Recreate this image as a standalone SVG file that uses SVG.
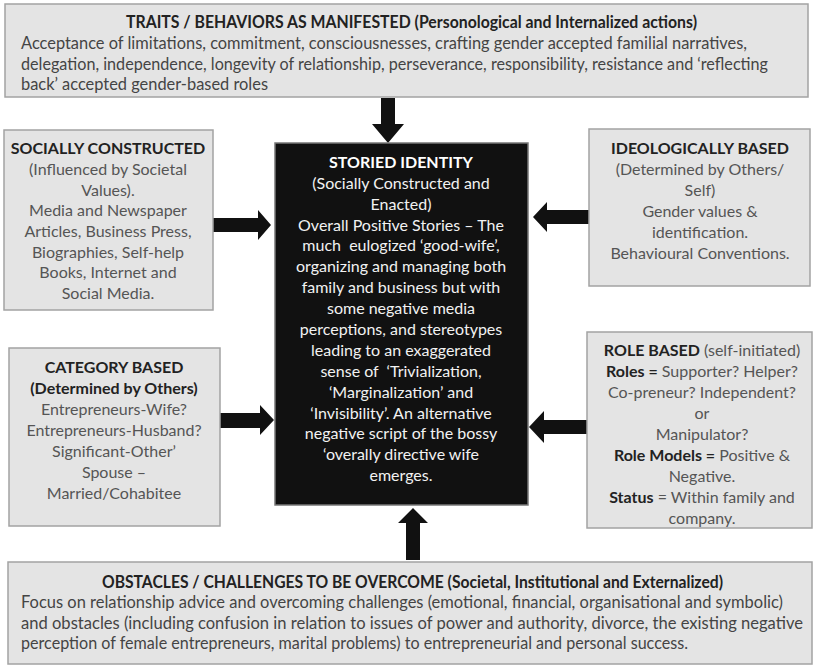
<svg xmlns="http://www.w3.org/2000/svg" width="813" height="666" viewBox="0 0 813 666">
<style>
.box{fill:#e4e4e4;stroke:#a3a3a3;stroke-width:1.5}
.core{fill:#111;stroke:#777;stroke-width:1.5}
text{font-family:Lato,"Open Sans","Liberation Sans",sans-serif;font-size:16px}
.c{text-anchor:middle;fill:#555}
.w{text-anchor:middle;fill:#f2f2f2}
.n{fill:#444;font-size:16.5px}
.b{font-weight:bold;fill:#222}
.wb{font-weight:bold;fill:#fff}
.arr{fill:#111}
</style>
<rect width="813" height="666" fill="#fff"/>
<g id="connectors">
<polygon class="arr" points="381,98 395,98 395,124 404,124 388,143 372,124 381,124"/>
<polygon class="arr" points="213,218 258,218 258,210 271,225 258,240 258,232 213,232"/>
<polygon class="arr" points="589,210 547,210 547,202 533,217 547,232 547,224 589,224"/>
<polygon class="arr" points="220,413 260,413 260,405 274,420 260,435 260,428 220,428"/>
<polygon class="arr" points="587,420 544,420 544,411 529,427 544,443 544,434 587,434"/>
<polygon class="arr" points="406,560 420,560 420,523 428,523 413,508 398,523 406,523"/>
</g>
<g id="traits">
<rect class="box" x="5" y="4" width="803" height="93"/>
<text x="126" y="28" class="n b" textLength="571" lengthAdjust="spacingAndGlyphs">TRAITS / BEHAVIORS AS MANIFESTED (Personological and Internalized actions)</text>
<text x="21" y="49" class="n" textLength="726" lengthAdjust="spacingAndGlyphs">Acceptance of limitations, commitment, consciousnesses, crafting gender accepted familial narratives,</text>
<text x="21" y="70" class="n" textLength="747" lengthAdjust="spacingAndGlyphs">delegation, independence, longevity of relationship, perseverance, responsibility, resistance and ‘reflecting</text>
<text x="21" y="90" class="n" textLength="247" lengthAdjust="spacingAndGlyphs">back’ accepted gender-based roles</text>
</g>
<g id="socially">
<rect class="box" x="4" y="130" width="209" height="180"/>
<text class="c" x="108" y="154"><tspan class="b">SOCIALLY CONSTRUCTED</tspan><tspan x="108" y="175">(Influenced by Societal</tspan><tspan x="108" y="196">Values).</tspan><tspan x="108" y="216">Media and Newspaper</tspan><tspan x="108" y="237">Articles, Business Press,</tspan><tspan x="108" y="258">Biographies, Self-help</tspan><tspan x="108" y="278">Books, Internet and</tspan><tspan x="108" y="299">Social Media.</tspan></text>
</g>
<g id="ideological">
<rect class="box" x="589" y="129" width="221" height="157"/>
<text class="c" x="700" y="154"><tspan class="b">IDEOLOGICALLY BASED</tspan><tspan x="700" y="175">(Determined by Others/</tspan><tspan x="700" y="196">Self)</tspan><tspan x="700" y="217">Gender values &amp;</tspan><tspan x="700" y="238">identification.</tspan><tspan x="700" y="259">Behavioural Conventions.</tspan></text>
</g>
<g id="category">
<rect class="box" x="9" y="348" width="211" height="178"/>
<text class="c" x="114" y="373"><tspan class="b">CATEGORY BASED</tspan><tspan x="114" y="394" class="b">(Determined by Others)</tspan><tspan x="114" y="415">Entrepreneurs-Wife?</tspan><tspan x="114" y="436">Entrepreneurs-Husband?</tspan><tspan x="114" y="457">Significant-Other’</tspan><tspan x="114" y="478">Spouse –</tspan><tspan x="114" y="499">Married/Cohabitee</tspan></text>
</g>
<g id="role">
<rect class="box" x="587" y="332" width="225" height="196"/>
<text class="c" x="702" y="356"><tspan class="b">ROLE BASED</tspan> (self-initiated)<tspan x="702" y="377"><tspan class="b">Roles =</tspan> Supporter? Helper?</tspan><tspan x="702" y="398">Co-preneur? Independent?</tspan><tspan x="702" y="419">or</tspan><tspan x="702" y="440">Manipulator?</tspan><tspan x="702" y="461"><tspan class="b">Role Models =</tspan> Positive &amp;</tspan><tspan x="702" y="482">Negative.</tspan><tspan x="702" y="503"><tspan class="b">Status</tspan> = Within family and</tspan><tspan x="702" y="524">company.</tspan></text>
</g>
<g id="storied">
<rect class="core" x="275" y="143" width="253" height="362"/>
<text class="w" x="401" y="168" xml:space="preserve"><tspan class="wb">STORIED IDENTITY</tspan><tspan x="401" y="189">(Socially Constructed and</tspan><tspan x="401" y="210">Enacted)</tspan><tspan x="401" y="231">Overall Positive Stories – The</tspan><tspan x="401" y="251">much  eulogized ‘good-wife’,</tspan><tspan x="401" y="272">organizing and managing both</tspan><tspan x="401" y="293">family and business but with</tspan><tspan x="401" y="314">some negative media</tspan><tspan x="401" y="335">perceptions, and stereotypes</tspan><tspan x="401" y="356">leading to an exaggerated</tspan><tspan x="401" y="377">sense of  ‘Trivialization,</tspan><tspan x="401" y="398">‘Marginalization’ and</tspan><tspan x="401" y="419">‘Invisibility’. An alternative</tspan><tspan x="401" y="439">negative script of the bossy</tspan><tspan x="401" y="460">‘overally directive wife</tspan><tspan x="401" y="481">emerges.</tspan></text>
</g>
<g id="obstacles">
<rect class="box" x="8" y="562" width="804" height="102"/>
<text x="102" y="588" class="n b" textLength="621" lengthAdjust="spacingAndGlyphs">OBSTACLES / CHALLENGES TO BE OVERCOME (Societal, Institutional and Externalized)</text>
<text x="21" y="608" class="n" textLength="762" lengthAdjust="spacingAndGlyphs">Focus on relationship advice and overcoming challenges (emotional, financial, organisational and symbolic)</text>
<text x="21" y="629" class="n" textLength="782" lengthAdjust="spacingAndGlyphs">and obstacles (including confusion in relation to issues of power and authority, divorce, the existing negative</text>
<text x="21" y="649" class="n" textLength="667" lengthAdjust="spacingAndGlyphs">perception of female entrepreneurs, marital problems) to entrepreneurial and personal success.</text>
</g>
</svg>
